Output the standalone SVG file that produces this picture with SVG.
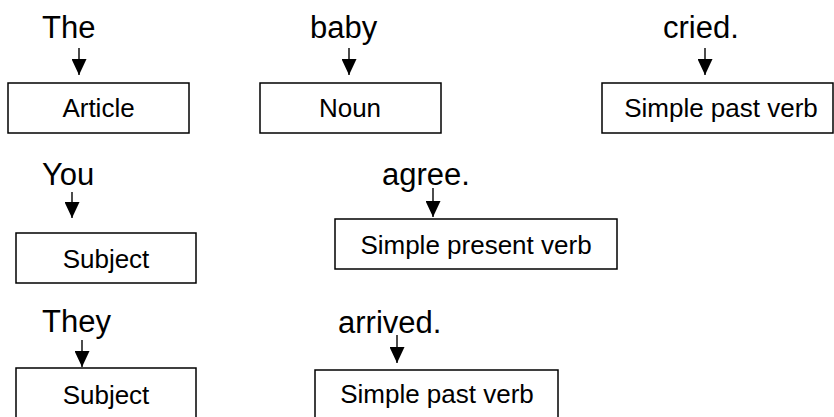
<svg xmlns="http://www.w3.org/2000/svg" width="834" height="417" viewBox="0 0 834 417">
  <style>
    .word { font-family: "Liberation Sans", Arial, sans-serif; font-size: 31px; fill: #000; }
    .label { font-family: "Liberation Sans", Arial, sans-serif; font-size: 26px; fill: #000; text-anchor: middle; }
    .box { fill: #fff; stroke: #000; stroke-width: 1.5; }
    .conn { stroke: #000; stroke-width: 1.4; fill: none; marker-end: url(#arrow); }
  </style>
  <defs>
    <marker id="arrow" markerUnits="userSpaceOnUse" markerWidth="16" markerHeight="15" refX="16" refY="7.5" orient="auto">
      <path d="M0,0 L16,7.5 L0,15 z" fill="#000"/>
    </marker>
  </defs>
  <rect width="834" height="417" fill="#fff"/>

  <!-- sentence 1 -->
  <g id="w-the"><text class="word" x="42" y="38">The</text></g>
  <g id="w-baby"><text class="word" x="310" y="38">baby</text></g>
  <g id="w-cried"><text class="word" x="663" y="38">cried.</text></g>
  <g id="n-article"><rect class="box" x="8" y="83" width="181" height="50"/><text class="label" x="98.5" y="117">Article</text></g>
  <g id="n-noun"><rect class="box" x="260" y="83" width="181" height="50"/><text class="label" x="350" y="117">Noun</text></g>
  <g id="n-past1"><rect class="box" x="602" y="83" width="231" height="50"/><text class="label" x="721" y="117">Simple past verb</text></g>

  <!-- sentence 2 -->
  <g id="w-you"><text class="word" x="42" y="185">You</text></g>
  <g id="w-agree"><text class="word" x="382" y="185">agree.</text></g>
  <g id="n-subject1"><rect class="box" x="16" y="233" width="180" height="50"/><text class="label" x="106" y="268">Subject</text></g>
  <g id="n-present"><rect class="box" x="335" y="219" width="282" height="50"/><text class="label" x="476" y="254">Simple present verb</text></g>

  <!-- sentence 3 -->
  <g id="w-they"><text class="word" x="42" y="332">They</text></g>
  <g id="w-arrived"><text class="word" x="338" y="333">arrived.</text></g>
  <g id="n-subject2"><rect class="box" x="16" y="368" width="180" height="52"/><text class="label" x="106" y="404">Subject</text></g>
  <g id="n-past2"><rect class="box" x="315" y="370" width="243" height="52"/><text class="label" x="437" y="403">Simple past verb</text></g>

  <g id="connectors">
    <line class="conn" x1="79" y1="48" x2="79" y2="75"/>
    <line class="conn" x1="349" y1="48" x2="349" y2="75"/>
    <line class="conn" x1="705" y1="48" x2="705" y2="75"/>
    <line class="conn" x1="72" y1="192" x2="72" y2="218"/>
    <line class="conn" x1="433" y1="188" x2="433" y2="217"/>
    <line class="conn" x1="82" y1="340" x2="82" y2="367"/>
    <line class="conn" x1="397" y1="335" x2="397" y2="363"/>
  </g>
</svg>
